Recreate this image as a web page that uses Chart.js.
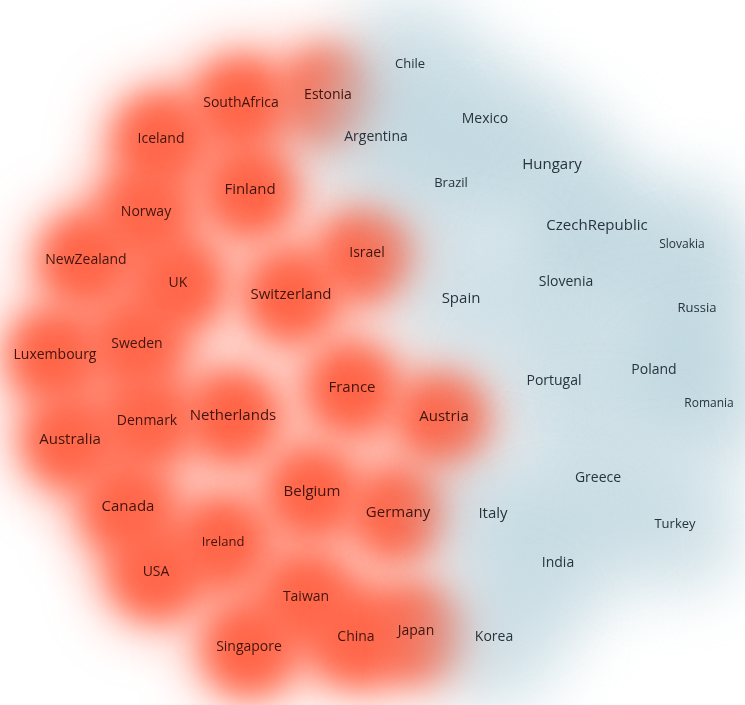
<!DOCTYPE html>
<html>
<head>
<meta charset="utf-8">
<script src="https://cdn.jsdelivr.net/npm/chart.js@4.4.1/dist/chart.umd.min.js"></script>
<style>
  html, body { margin: 0; padding: 0; background: #fff; overflow: hidden; }
  #wrap { width: 745px; height: 705px; }
</style>
</head>
<body>
<div id="wrap"><canvas id="myChart"></canvas></div>
<script>
// map positions of each country (x to the right, y downward)
const redNames = ['SouthAfrica','Estonia','Iceland','Finland','Norway','NewZealand','UK','Israel','Switzerland','Sweden','Luxembourg','France','Netherlands','Denmark','Austria','Australia','Canada','Belgium','Germany','Ireland','USA','Taiwan','China','Japan','Singapore'];
const redX = [241,328,161,250,146,86,178,367,291,137,55,352,233,147,444,70,128,312,398,223,156,306,356,416,249];
const redY = [104,96,140,191,213,261,284,254,296,345,356,389,417,422,418,441,508,493,514,543,573,598,638,632,648];
const redSize = [14,14,14,15,14,14,14,14,15,14,14,15,15,14,15,15,15,15,15,13,14,14,14,14,14];

const blueNames = ['Chile','Mexico','Argentina','Hungary','Brazil','CzechRepublic','Slovakia','Slovenia','Spain','Russia','Portugal','Poland','Romania','Greece','Italy','Turkey','India','Korea'];
const blueX = [410,485,376,552,451,597,682,566,461,697,554,654,709,598,493,675,558,494];
const blueY = [65,120,138,166,184,227,246,283,300,309,382,371,405,479,515,525,564,638];
const blueSize = [13,14,14,15,13,15,12,14,15,13,14,14,12,14,15,13,14,14];

function toPoints(xs, ys){
	let pts = [];
	for(let i = 0; i < xs.length; i++){
		pts.push({x: xs[i], y: ys[i]});
	}
	return pts;
}

// blur amount per dataset: blue, red halo, red core
const blurs = ['blur(30px)', 'blur(26px)', 'blur(16px)'];

const blurPlugin = {
	id: 'blur',
	beforeDatasetDraw(chart, args){
		chart.ctx.save();
		chart.ctx.filter = blurs[args.index];
	},
	afterDatasetDraw(chart){
		chart.ctx.restore();
	}
};

const labelPlugin = {
	id: 'labels',
	afterDatasetsDraw(chart){
		const ctx = chart.ctx;
		ctx.save();
		ctx.textAlign = 'center';
		ctx.textBaseline = 'middle';
		const sets = [
			{meta: 0, names: blueNames, size: blueSize, color: '#27343c'},
			{meta: 2, names: redNames, size: redSize, color: '#3f150d'}
		];
		sets.forEach((s) => {
			chart.getDatasetMeta(s.meta).data.forEach((pt, i) => {
				ctx.font = s.size[i] + 'px "Open Sans"';
				ctx.fillStyle = s.color;
				ctx.fillText(s.names[i], pt.x, pt.y - 1);
			});
		});
		ctx.restore();
	}
};

const ctx = document.getElementById('myChart').getContext('2d');
const myChart = new Chart(ctx, {
	type: 'scatter',
	data: {
		datasets: [{
			data: toPoints(blueX, blueY),
			backgroundColor: 'rgba(184,210,219,0.62)',
			borderWidth: 0,
			pointRadius: 70,
			pointHoverRadius: 70,
			clip: false
		},{
			data: toPoints(redX, redY),
			backgroundColor: 'rgba(255,110,84,0.5)',
			borderWidth: 0,
			pointRadius: 62,
			pointHoverRadius: 62,
			clip: false
		},{
			data: toPoints(redX, redY),
			backgroundColor: 'rgba(255,80,44,0.92)',
			borderWidth: 0,
			pointRadius: 45,
			pointHoverRadius: 45,
			clip: false
		}]
	},
	options: {
		responsive: true,
		maintainAspectRatio: false,
		animation: false,
		layout: { padding: 0, autoPadding: false },
		plugins: { legend: { display: false }, tooltip: { enabled: false } },
		scales: {
			x: { type: 'linear', min: 0, max: 745, display: false },
			y: { type: 'linear', min: 0, max: 705, reverse: true, display: false }
		}
	},
	plugins: [blurPlugin, labelPlugin]
});
</script>
</body>
</html>
